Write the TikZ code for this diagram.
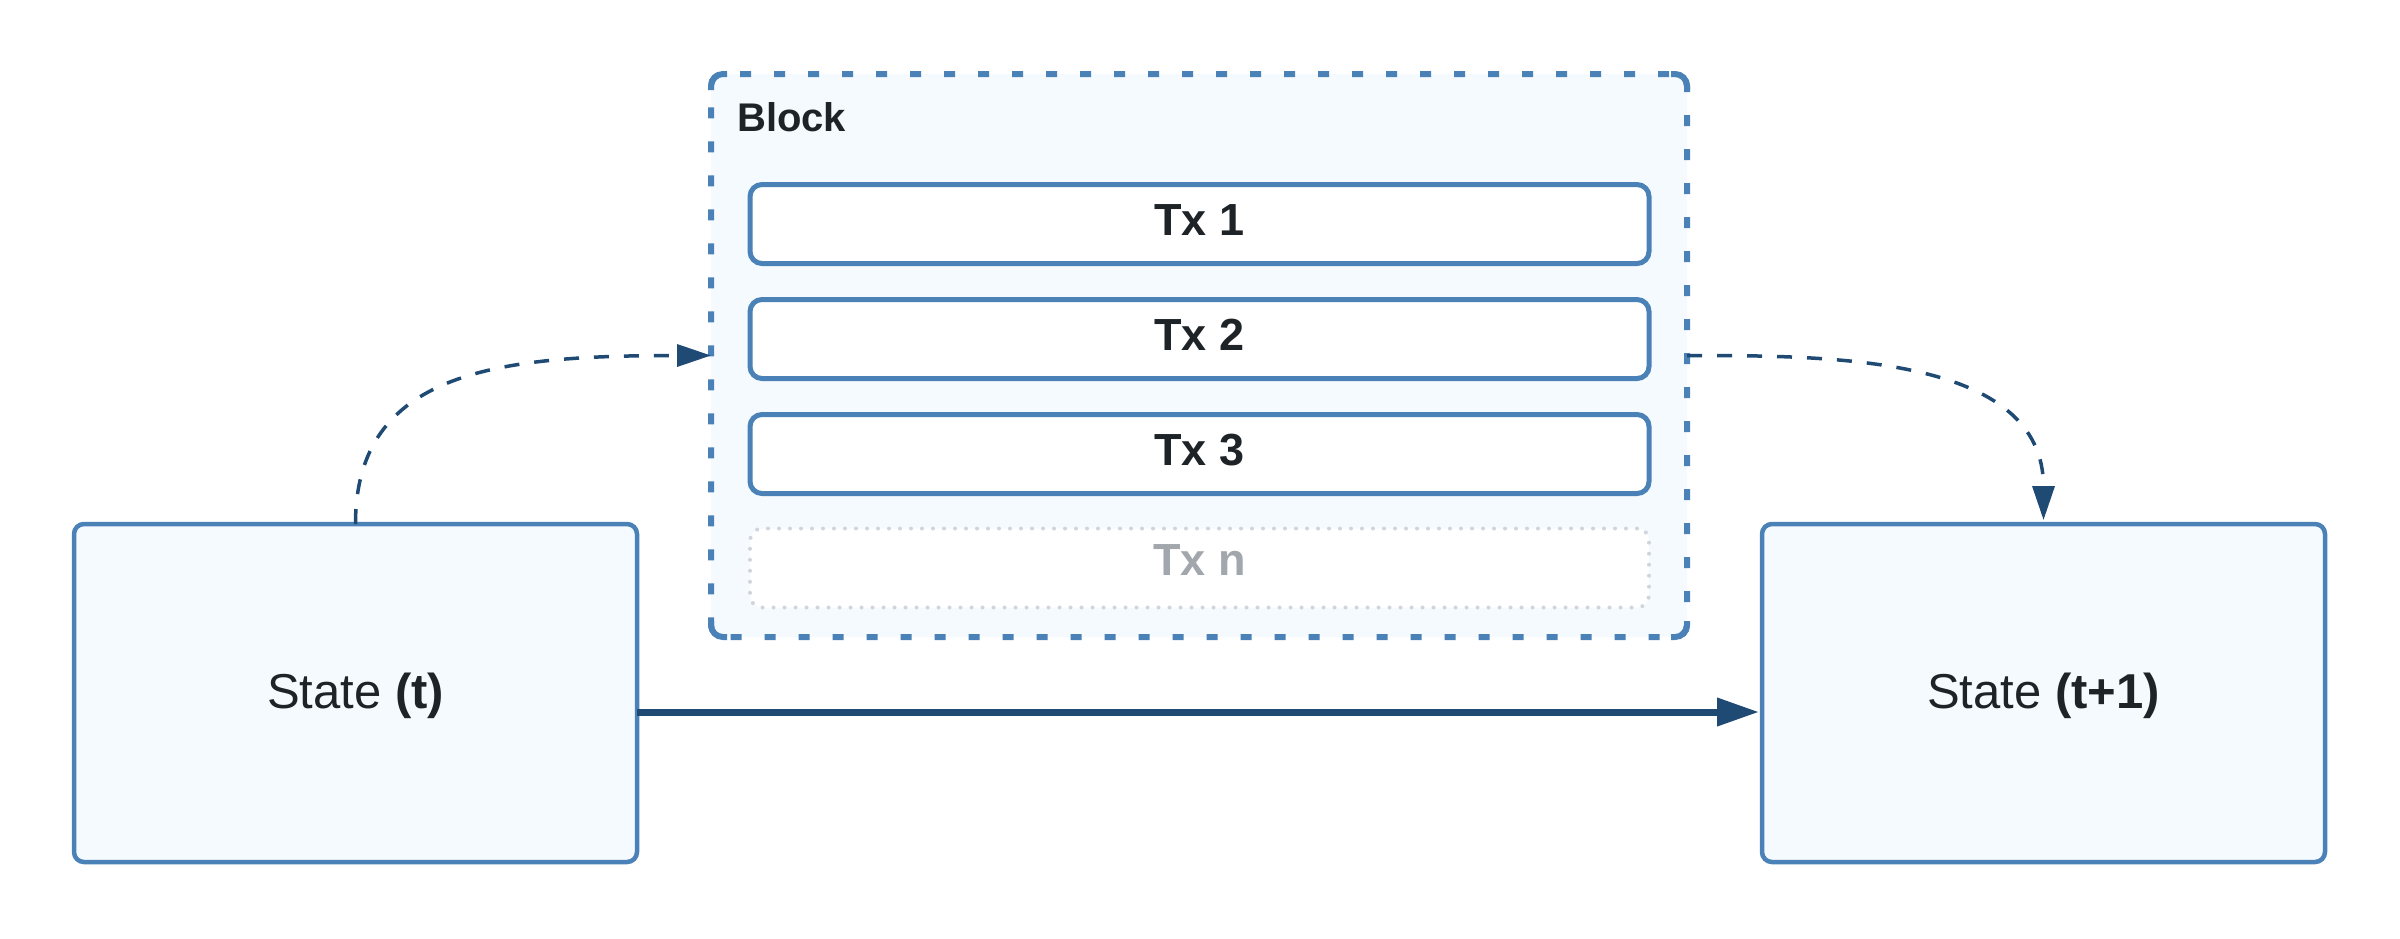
\documentclass[tikz,border=0pt]{standalone}
\usepackage{fontspec}
\setmainfont{Liberation Sans}
\usetikzlibrary{arrows.meta}
\definecolor{borderblue}{HTML}{4A82B7}
\definecolor{fillblue}{HTML}{F5FAFF}
\definecolor{darkblue}{HTML}{1F4A74}
\definecolor{textdark}{HTML}{1E2328}
\definecolor{graytext}{HTML}{A2A6AD}
\definecolor{dotgray}{HTML}{D0D5DD}
\begin{document}
\begin{tikzpicture}[x=1pt,y=-1pt,
  statebox/.style={draw=borderblue,fill=fillblue,line width=4.5pt,rounded corners=10pt,
    minimum width=563pt,minimum height=338pt,inner sep=0pt,outer sep=0pt,
    text=textdark,font=\fontsize{49}{58}\selectfont,text height=30pt,text depth=0pt},
  blockbox/.style={draw=borderblue,fill=fillblue,line width=6pt,rounded corners=12pt,
    dash pattern=on 11pt off 23pt,dash phase=-6pt,minimum width=976pt,minimum height=563pt,inner sep=0pt,outer sep=0pt},
  blockcorner/.style={draw=borderblue,line width=6pt,rounded corners=12pt,solid},
  txbox/.style={draw=borderblue,fill=white,line width=5pt,rounded corners=12pt,
    minimum width=899pt,minimum height=79pt,inner sep=0pt,outer sep=0pt,
    text=textdark,font=\fontsize{45}{54}\selectfont\bfseries,text height=22pt,text depth=0pt},
  txghost/.style={txbox,draw=dotgray,line width=4pt,line cap=round,dash pattern=on 0pt off 11pt,text=graytext,text height=14pt},
  blocklabel/.style={text=textdark,font=\fontsize{40}{48}\selectfont\bfseries,inner sep=0pt,anchor=base west},
  flowarrow/.style={draw=darkblue,line width=7pt,-{Triangle[length=42pt,width=27pt]}},
  dasharrow/.style={draw=darkblue,line width=3.5pt,dash pattern=on 15pt off 15pt,-{Triangle[length=34pt,width=22pt]}}
]
\useasboundingbox (0,0) rectangle (2400,938);
\node[statebox] (st) at (355.5,693) {State \textbf{(t)}};
\node[statebox] (st2) at (2043.5,693) {State \textbf{(t+1)}};
\node[blockbox] (block) at (1199,355.5) {};
\draw[blockcorner] ([yshift=-16pt]block.north west) -- (block.north west) -- ([xshift=16pt]block.north west);
\draw[blockcorner] ([xshift=-16pt]block.north east) -- (block.north east) -- ([yshift=-16pt]block.north east);
\draw[blockcorner] ([yshift=16pt]block.south east) -- (block.south east) -- ([xshift=-16pt]block.south east);
\draw[blockcorner] ([xshift=16pt]block.south west) -- (block.south west) -- ([yshift=16pt]block.south west);
\node[blocklabel] (blabel) at (737,131) {Block};
\node[txbox] (tx1) at (1199.5,224) {Tx 1};
\node[txbox] (tx2) at (1199.5,339) {Tx 2};
\node[txbox] (tx3) at (1199.5,454) {Tx 3};
\node[txghost] (txn) at (1199.5,568) {Tx n};
\draw[flowarrow,shorten >=3pt] ([yshift=-19pt]st.east) -- ([yshift=-19pt]st2.west);
\draw[dasharrow] (st.north) .. controls (355.5,370) and (500,355.5) .. (block.west);
\draw[dasharrow,shorten >=4pt] (block.east) .. controls (1830,355.5) and (2043.5,355.5) .. (st2.north);
\end{tikzpicture}
\end{document}
